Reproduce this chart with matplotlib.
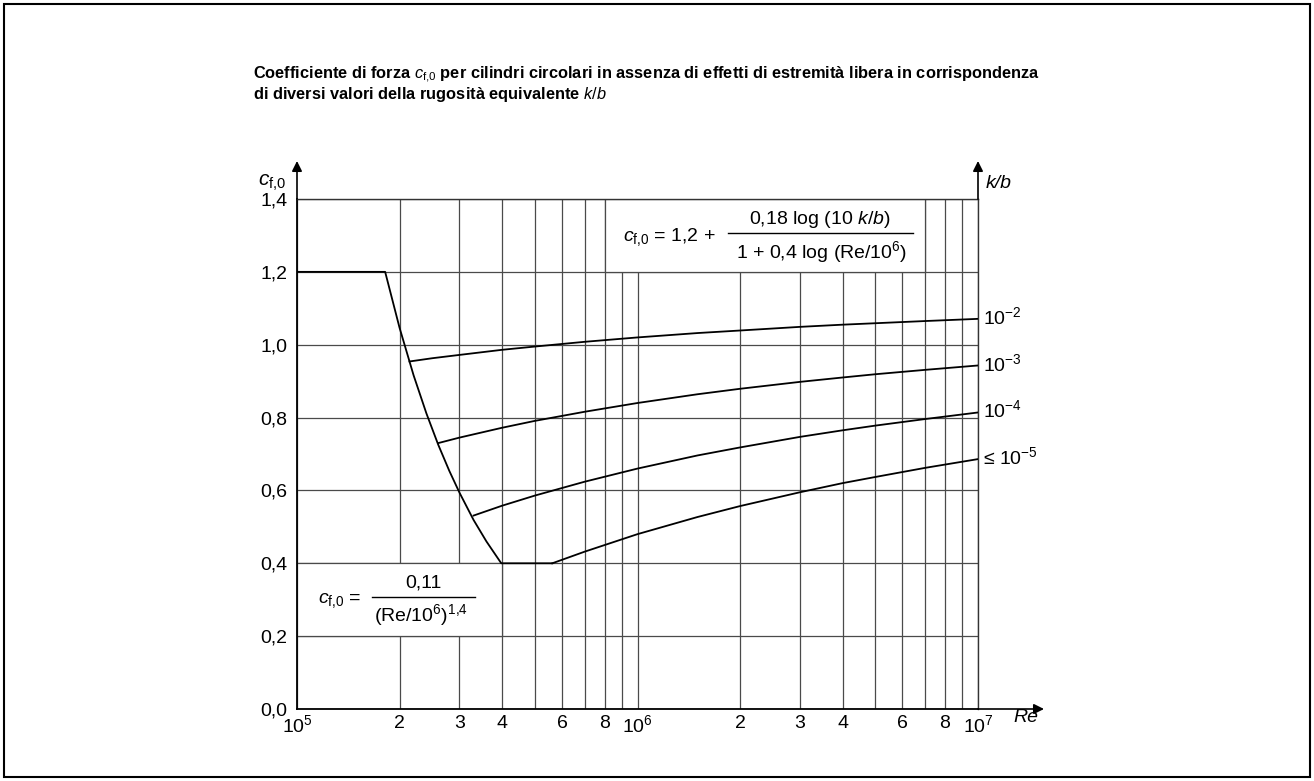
import matplotlib

matplotlib.use("Agg")
import matplotlib.pyplot as plt
from matplotlib import font_manager
from matplotlib.patches import Rectangle
from matplotlib.lines import Line2D

# === Values ===
# base curve: c_f,0 = 1,2 -> 0,11/(Re/10^6)^1,4 -> 0,4
re_base = [1e5, 1.815e5, 2.0e5, 2.2e5, 2.4e5, 2.6e5, 2.8e5, 3.0e5, 3.3e5, 3.6e5, 3.98e5, 5.62e5]
cf_base = [1.2, 1.2, 1.047, 0.916, 0.811, 0.725, 0.654, 0.594, 0.519, 0.460, 0.400, 0.400]

# rough cylinders, one curve per k/b
re_kb2 = [2.14e5, 2.5e5, 3e5, 4e5, 5e5, 7e5, 1e6, 1.5e6, 2e6, 3e6, 4e6, 5e6, 7e6, 1e7]
cf_kb2 = [0.954, 0.963, 0.972, 0.986, 0.995, 1.008, 1.020, 1.032, 1.039, 1.049, 1.055, 1.059, 1.065, 1.071]

re_kb3 = [2.6e5, 3e5, 4e5, 5e5, 7e5, 1e6, 1.5e6, 2e6, 3e6, 4e6, 5e6, 7e6, 1e7]
cf_kb3 = [0.730, 0.745, 0.772, 0.791, 0.816, 0.840, 0.864, 0.879, 0.898, 0.910, 0.919, 0.931, 0.943]

re_kb4 = [3.3e5, 4e5, 5e5, 7e5, 1e6, 1.5e6, 2e6, 3e6, 4e6, 5e6, 7e6, 1e7]
cf_kb4 = [0.531, 0.558, 0.586, 0.624, 0.660, 0.696, 0.718, 0.747, 0.765, 0.778, 0.796, 0.814]

re_kb5 = [5.62e5, 7e5, 1e6, 1.5e6, 2e6, 3e6, 4e6, 5e6, 7e6, 1e7]
cf_kb5 = [0.400, 0.432, 0.480, 0.527, 0.557, 0.595, 0.620, 0.637, 0.662, 0.686]

kb_labels = [r"$10^{-2}$", r"$10^{-3}$", r"$10^{-4}$", r"≤ $10^{-5}$"]

x_ticks = [1e5, 2e5, 3e5, 4e5, 5e5, 6e5, 7e5, 8e5, 9e5,
           1e6, 2e6, 3e6, 4e6, 5e6, 6e6, 7e6, 8e6, 9e6, 1e7]
x_tick_labels = [r"$10^{5}$", "2", "3", "4", "", "6", "", "8", "",
                 r"$10^{6}$", "2", "3", "4", "", "6", "", "8", "", r"$10^{7}$"]
y_ticks = [0.0, 0.2, 0.4, 0.6, 0.8, 1.0, 1.2, 1.4]
y_tick_labels = ["0,0", "0,2", "0,4", "0,6", "0,8", "1,0", "1,2", "1,4"]

# === Fonts ===
names = {f.name for f in font_manager.fontManager.ttflist}
narrow = "Liberation Sans Narrow" if "Liberation Sans Narrow" in names else "Liberation Sans"
plt.rcParams["font.family"] = ["Liberation Sans", "DejaVu Sans"]
plt.rcParams["mathtext.fontset"] = "custom"
plt.rcParams["mathtext.rm"] = "Liberation Sans"
plt.rcParams["mathtext.it"] = "Liberation Sans:italic"
plt.rcParams["mathtext.bf"] = "Liberation Sans:bold"

W, H = 1314, 781


def fx(x):
    return x / W


def fy(y):
    return 1 - y / H


fig = plt.figure(figsize=(W / 100, H / 100), dpi=100)
ax = fig.add_axes([fx(297), fy(709), (978 - 297) / W, (709 - 199) / H])

ax.set_xscale("log")
ax.set_xlim(1e5, 1e7)
ax.set_ylim(0, 1.4)
ax.set_xticks(x_ticks, x_tick_labels)
ax.xaxis.set_minor_locator(matplotlib.ticker.NullLocator())
ax.set_yticks(y_ticks, y_tick_labels)
ax.tick_params(length=0, labelsize=14)
ax.tick_params(axis="x", pad=4)
ax.tick_params(axis="y", pad=7)
ax.set_axisbelow(True)
ax.grid(True, color="#4a4a4a", lw=0.9)
for side in ["top", "right"]:
    ax.spines[side].set_color("#333333")
    ax.spines[side].set_linewidth(1.0)
for side in ["left", "bottom"]:
    ax.spines[side].set_linewidth(1.3)

# --- white boxes holding the formulas (cover the grid) ---
ax.add_patch(Rectangle((8e5, 1.2), 7e6 - 8e5, 0.2, facecolor="white",
                       edgecolor="#4a4a4a", lw=0.9, zorder=1))
ax.add_patch(Rectangle((1e5, 0.2), 4e5 - 1e5, 0.2, facecolor="white",
                       edgecolor="#4a4a4a", lw=0.9, zorder=1))

# --- curves ---
ax.plot(re_base, cf_base, color="black", lw=1.3, zorder=3)
curves = [(re_kb2, cf_kb2), (re_kb3, cf_kb3), (re_kb4, cf_kb4), (re_kb5, cf_kb5)]
for (re, cf), lab in zip(curves, kb_labels):
    ax.plot(re, cf, color="black", lw=1.3, zorder=3)
    ax.text(re[-1] * 1.035, cf[-1] + 0.005, lab, ha="left", va="center", fontsize=14)

# --- axis arrows ---
arrow = dict(arrowstyle="-|>", color="black", lw=1.2, mutation_scale=15,
             shrinkA=0, shrinkB=0)
ax.annotate("", xy=(0, 1 + 38 / 510), xytext=(0, 1), xycoords="axes fraction",
            arrowprops=arrow, annotation_clip=False)
ax.annotate("", xy=(1, 1 + 38 / 510), xytext=(1, 1), xycoords="axes fraction",
            arrowprops=arrow, annotation_clip=False)
ax.annotate("", xy=(1 + 66 / 681, 0), xytext=(1, 0), xycoords="axes fraction",
            arrowprops=arrow, annotation_clip=False)

# --- axis labels ---
fig.text(fx(286), fy(183), r"$\mathit{c}_{\mathrm{f{,}0}}$", ha="right", va="center", fontsize=15)
fig.text(fx(986), fy(183), "k/b", style="italic", ha="left", va="center", fontsize=14)
fig.text(fx(1026), fy(718), "Re", style="italic", ha="center", va="center", fontsize=14)

# --- formula top right ---
fig.text(fx(623), fy(237), r"$\mathit{c}_{\mathrm{f{,}0}}$ = 1,2 +", ha="left", va="center", fontsize=14)
fig.text(fx(820), fy(219), r"0,18 log (10 $\mathit{k/b}$)", ha="center", va="center", fontsize=14)
fig.add_artist(Line2D([fx(728), fx(913)], [fy(233), fy(233)], transform=fig.transFigure,
                      color="black", lw=1.0))
fig.text(fx(822), fy(252), r"1 + 0,4 log (Re/10$^{6}$)", ha="center", va="center", fontsize=14)

# --- formula bottom left ---
fig.text(fx(318), fy(601), r"$\mathit{c}_{\mathrm{f{,}0}}$ =", ha="left", va="center", fontsize=14)
fig.text(fx(423), fy(583), "0,11", ha="center", va="center", fontsize=14)
fig.add_artist(Line2D([fx(372), fx(475)], [fy(597), fy(597)], transform=fig.transFigure,
                      color="black", lw=1.0))
fig.text(fx(421), fy(615), r"(Re/10$^{6}$)$^{1{,}4}$", ha="center", va="center", fontsize=14)

# --- title ---
fig.text(fx(253), fy(75),
         r"Coefficiente di forza $\mathit{c}_{\mathrm{f{,}0}}$ per cilindri circolari in assenza di effetti "
         r"di estremità libera in corrispondenza",
         ha="left", va="center", fontsize=11.8, weight="bold", family=narrow)
fig.text(fx(253), fy(94), r"di diversi valori della rugosità equivalente $\mathit{k/b}$",
         ha="left", va="center", fontsize=11.8, weight="bold", family=narrow)

# --- outer frame ---
fig.add_artist(Rectangle((fx(4), fy(777)), 1306 / W, 773 / H, transform=fig.transFigure,
                         fill=False, edgecolor="black", lw=1.5))

fig.savefig("out.png", dpi=100)
